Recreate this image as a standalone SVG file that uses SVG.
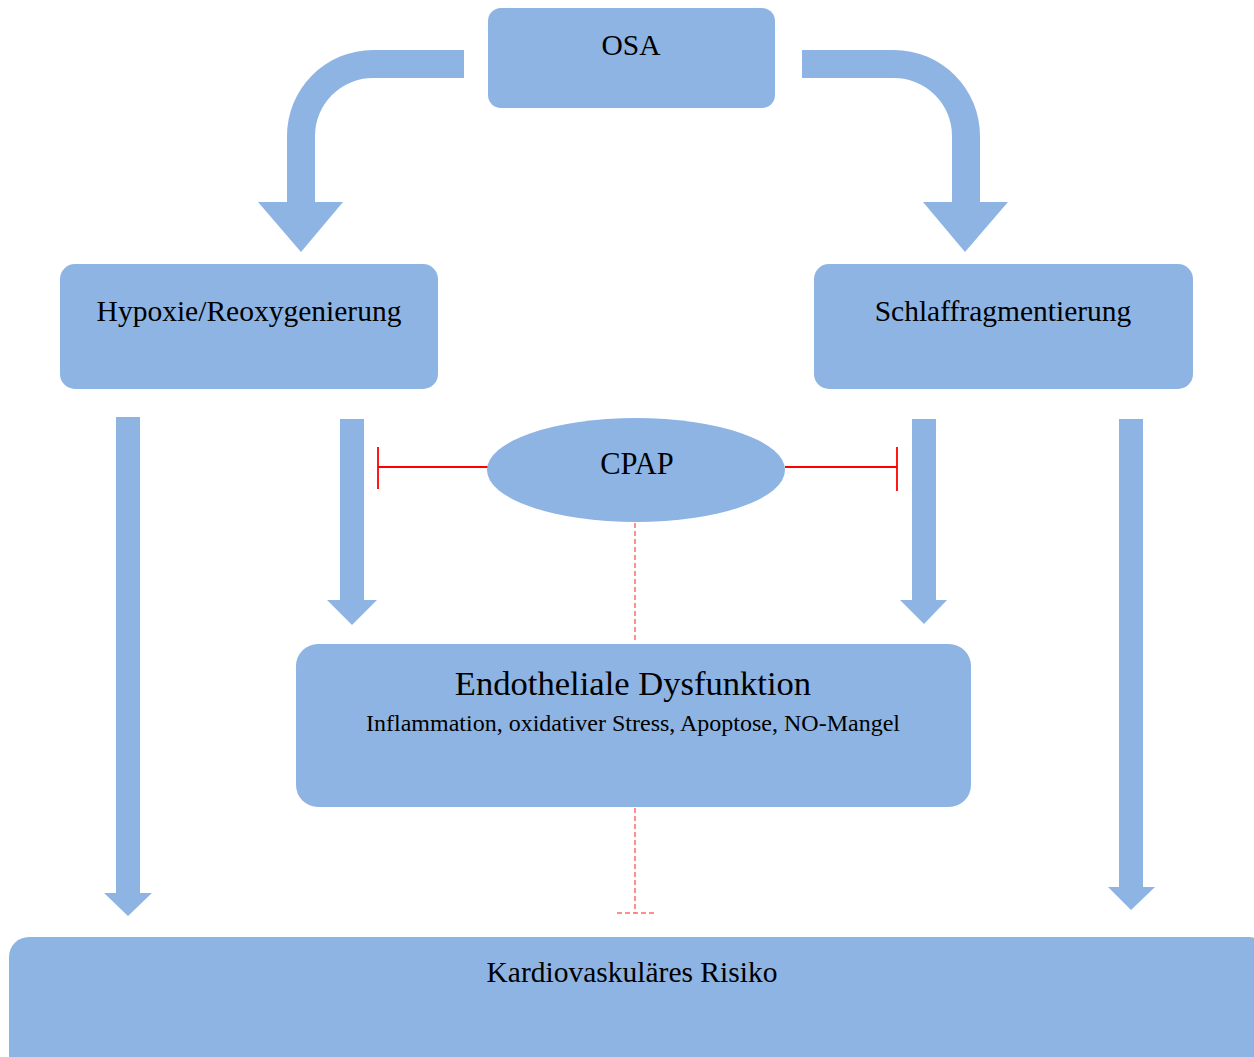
<svg xmlns="http://www.w3.org/2000/svg" width="1254" height="1057" viewBox="0 0 1254 1057">
<style>
.box{fill:#8EB4E3;}
.arrow{fill:#8EB4E3;}
.t{font-family:"Liberation Serif","Times New Roman",serif;fill:#000;text-anchor:middle;}
.inh{stroke:#FF0000;stroke-width:1.8;fill:none;}
.dash{stroke:#FF6B6B;stroke-width:1.5;fill:none;stroke-dasharray:5,3;}
</style>
<rect width="1254" height="1057" fill="#fff"/>
<g id="connectors">
<path class="arrow" d="M464,50 H373 A86,86 0 0 0 287,136 V202 H258 L301,252 L343,202 H315 V136 A58,58 0 0 1 373,78 H464 Z"/>
<path class="arrow" d="M802,50 H894 A86,86 0 0 1 980,136 V202 H1008 L965,252 L923,202 H952 V136 A58,58 0 0 0 894,78 H802 Z"/>
<path class="arrow" d="M116,417 H140 V893 H152 L128,916 L104,893 H116 Z"/>
<path class="arrow" d="M1119,419 H1143 V887 H1155 L1131,910 L1108,887 H1119 Z"/>
<path class="arrow" d="M340,419 H364 V600 H377 L352,625 L327,600 H340 Z"/>
<path class="arrow" d="M912,419 H936 V600 H947 L924,624 L900,600 H912 Z"/>
<path class="inh" d="M488,467 H378 M378,447 V489"/>
<path class="inh" d="M785,467 H897 M897,447 V491"/>
<path class="dash" d="M635,523 V643"/>
<path class="dash" d="M635,808 V913 M617,913 H656"/>
</g>
<g id="osa"><rect class="box" x="488" y="8" width="287" height="100" rx="13"/><text class="t" x="631" y="55" font-size="29.5">OSA</text></g>
<g id="hypoxie"><rect class="box" x="60" y="264" width="378" height="125" rx="15"/><text class="t" x="249" y="321" font-size="29.5">Hypoxie/Reoxygenierung</text></g>
<g id="schlaf"><rect class="box" x="814" y="264" width="379" height="125" rx="15"/><text class="t" x="1003" y="321" font-size="29.5">Schlaffragmentierung</text></g>
<g id="cpap"><ellipse class="box" cx="636" cy="470" rx="149" ry="52"/><text class="t" x="637" y="474" font-size="30.5">CPAP</text></g>
<g id="endothel"><rect class="box" x="296" y="644" width="675" height="163" rx="22"/><text class="t" x="633" y="695" font-size="34.6">Endotheliale Dysfunktion</text><text class="t" x="633" y="731" font-size="24">Inflammation, oxidativer Stress, Apoptose, NO-Mangel</text></g>
<g id="risiko"><rect class="box" x="9" y="937" width="1260" height="140" rx="20"/><text class="t" x="632" y="982" font-size="29.5">Kardiovaskuläres Risiko</text></g>
</svg>
